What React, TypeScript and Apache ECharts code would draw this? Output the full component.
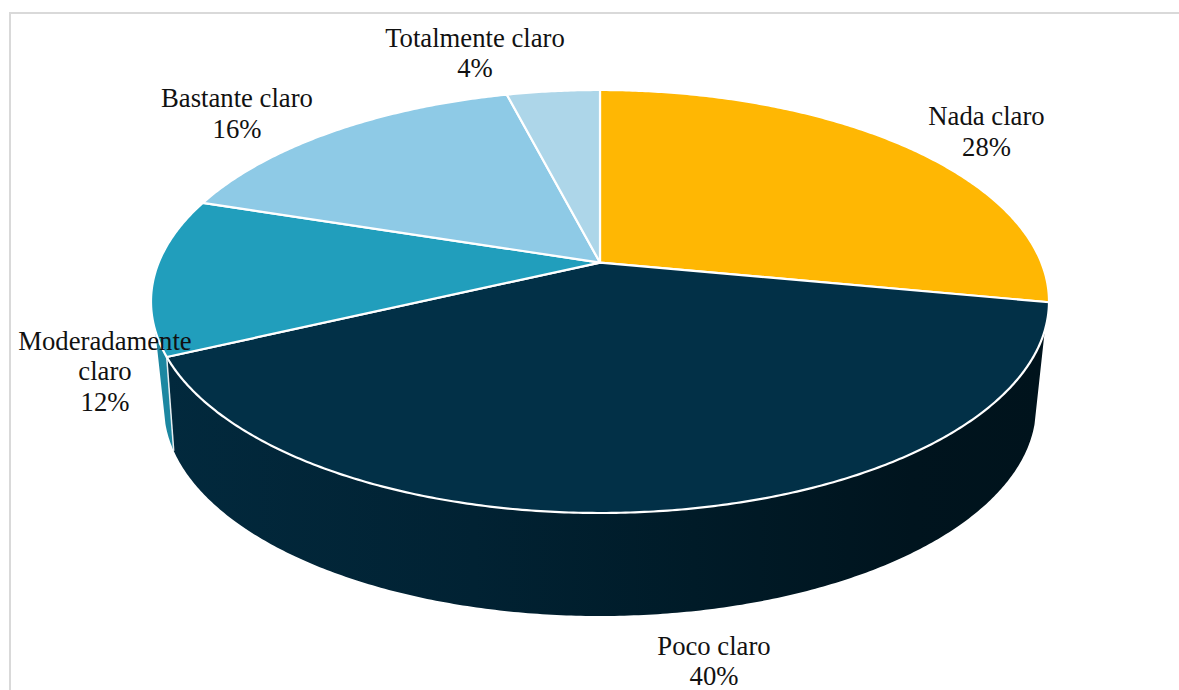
import React, { useEffect, useRef } from "react";
import * as echarts from "echarts";

const categories = ["Nada claro", "Poco claro", "Moderadamente claro", "Bastante claro", "Totalmente claro"];
const percentages = [28, 40, 12, 16, 4];

const topColors = ["#FFB703", "#023047", "#219EBC", "#8ECAE6", "#ADD6E9"];
const wallColors = ["#C99002", "wallGradient", "#1C87A1", "#78ACC4", "#93B6C6"];

// label anchors (centre of the text block) and line breaks
const labelLines = [
  ["Nada claro"],
  ["Poco claro"],
  ["Moderadamente", "claro"],
  ["Bastante claro"],
  ["Totalmente claro"],
];
const labelAnchors = [
  [986.5, 131.5],
  [714, 661],
  [105, 371],
  [237, 113.5],
  [475, 53],
];

type Ellipse = { cx: number; cy: number; rx: number; ry: number; a: number };
const topFace: Ellipse = { cx: 600, cy: 301.5, rx: 449, ry: 211.5, a: 0.184 };
const bottomFace: Ellipse = { cx: 600, cy: 407, rx: 436, ry: 209, a: 0.237 };
const visibleWall: [number, number] = [108.2, 251.8];

// perspective projection of a point on the unit circle (angle clockwise from the top)
function project(deg: number, e: Ellipse): number[] {
  const t = (deg * Math.PI) / 180;
  const x = Math.sin(t);
  const y = Math.cos(t);
  const d = 1 + e.a * y;
  const ux = (x * Math.sqrt(1 - e.a * e.a)) / d;
  const uy = (y + e.a) / d;
  return [e.cx + e.rx * ux, e.cy - e.ry * uy];
}

function arc(from: number, to: number, e: Ellipse): number[][] {
  const pts: number[][] = [];
  const n = Math.max(2, Math.ceil(Math.abs(to - from) * 2));
  for (let i = 0; i <= n; i++) pts.push(project(from + ((to - from) * i) / n, e));
  return pts;
}

const total = percentages.reduce((s, v) => s + v, 0);
function sliceRange(i: number): [number, number] {
  const before = percentages.slice(0, i).reduce((s, v) => s + v, 0);
  return [(before / total) * 360, ((before + percentages[i]) / total) * 360];
}

const wallGradient = new echarts.graphic.LinearGradient(0, 0, 1, 0, [
  { offset: 0, color: "#02293D" },
  { offset: 0.35, color: "#012233" },
  { offset: 0.6, color: "#001B28" },
  { offset: 0.85, color: "#00141E" },
  { offset: 1, color: "#00131C" },
]);

function renderWall(params: any) {
  const i = params.dataIndex;
  const [s, e] = sliceRange(i);
  const from = Math.max(s, visibleWall[0]);
  const to = Math.min(e, visibleWall[1]);
  if (from >= to) return { type: "group", children: [] };
  const children: any[] = [
    {
      type: "polygon",
      shape: { points: [...arc(from, to, topFace), ...arc(to, from, bottomFace)] },
      style: { fill: wallColors[i] === "wallGradient" ? wallGradient : wallColors[i] },
    },
  ];
  if (s >= visibleWall[0]) {
    const a = project(s, topFace);
    const b = project(s, bottomFace);
    children.push({
      type: "line",
      shape: { x1: a[0], y1: a[1], x2: b[0], y2: b[1] },
      style: { stroke: "#E8EEF1", lineWidth: 1.5 },
      z2: 5,
    });
  }
  return { type: "group", children };
}

function renderTop(params: any) {
  const i = params.dataIndex;
  const [s, e] = sliceRange(i);
  const apex = [topFace.cx, topFace.cy - topFace.ry * topFace.a];
  return {
    type: "polygon",
    shape: { points: [apex, ...arc(s, e, topFace)] },
    style: { fill: topColors[i], stroke: "#FFFFFF", lineWidth: 2.2, lineJoin: "round" },
  };
}

function renderLabel(params: any) {
  const i = params.dataIndex;
  const [x, y] = labelAnchors[i];
  return {
    type: "text",
    style: {
      text: [...labelLines[i], `${percentages[i]}%`].join("\n"),
      x,
      y,
      align: "center",
      verticalAlign: "middle",
      fill: "#111111",
      font: '26.7px "Liberation Serif"',
      lineHeight: 30.5,
    },
  };
}

export default function App() {
  const ref = useRef<HTMLDivElement>(null);
  useEffect(() => {
    const chart = echarts.init(ref.current!, undefined, { renderer: "svg" });
    const data = categories.map((name, i) => ({ name, value: percentages[i] }));
    const base = { type: "custom", coordinateSystem: "none", data, silent: true, clip: false };
    chart.setOption({
      animation: false,
      backgroundColor: "#FFFFFF",
      graphic: [
        { type: "line", shape: { x1: 10, y1: 13, x2: 1179, y2: 13 }, style: { stroke: "#D9D9D9", lineWidth: 2 } },
        { type: "line", shape: { x1: 10, y1: 12, x2: 10, y2: 690 }, style: { stroke: "#D9D9D9", lineWidth: 2 } },
      ],
      series: [
        { ...base, z: 2, renderItem: renderWall },
        { ...base, z: 3, renderItem: renderTop },
        { ...base, z: 4, renderItem: renderLabel },
      ],
    });
    return () => chart.dispose();
  }, []);
  return <div ref={ref} style={{ position: "fixed", left: 0, top: 0, width: 1179, height: 690 }} />;
}
